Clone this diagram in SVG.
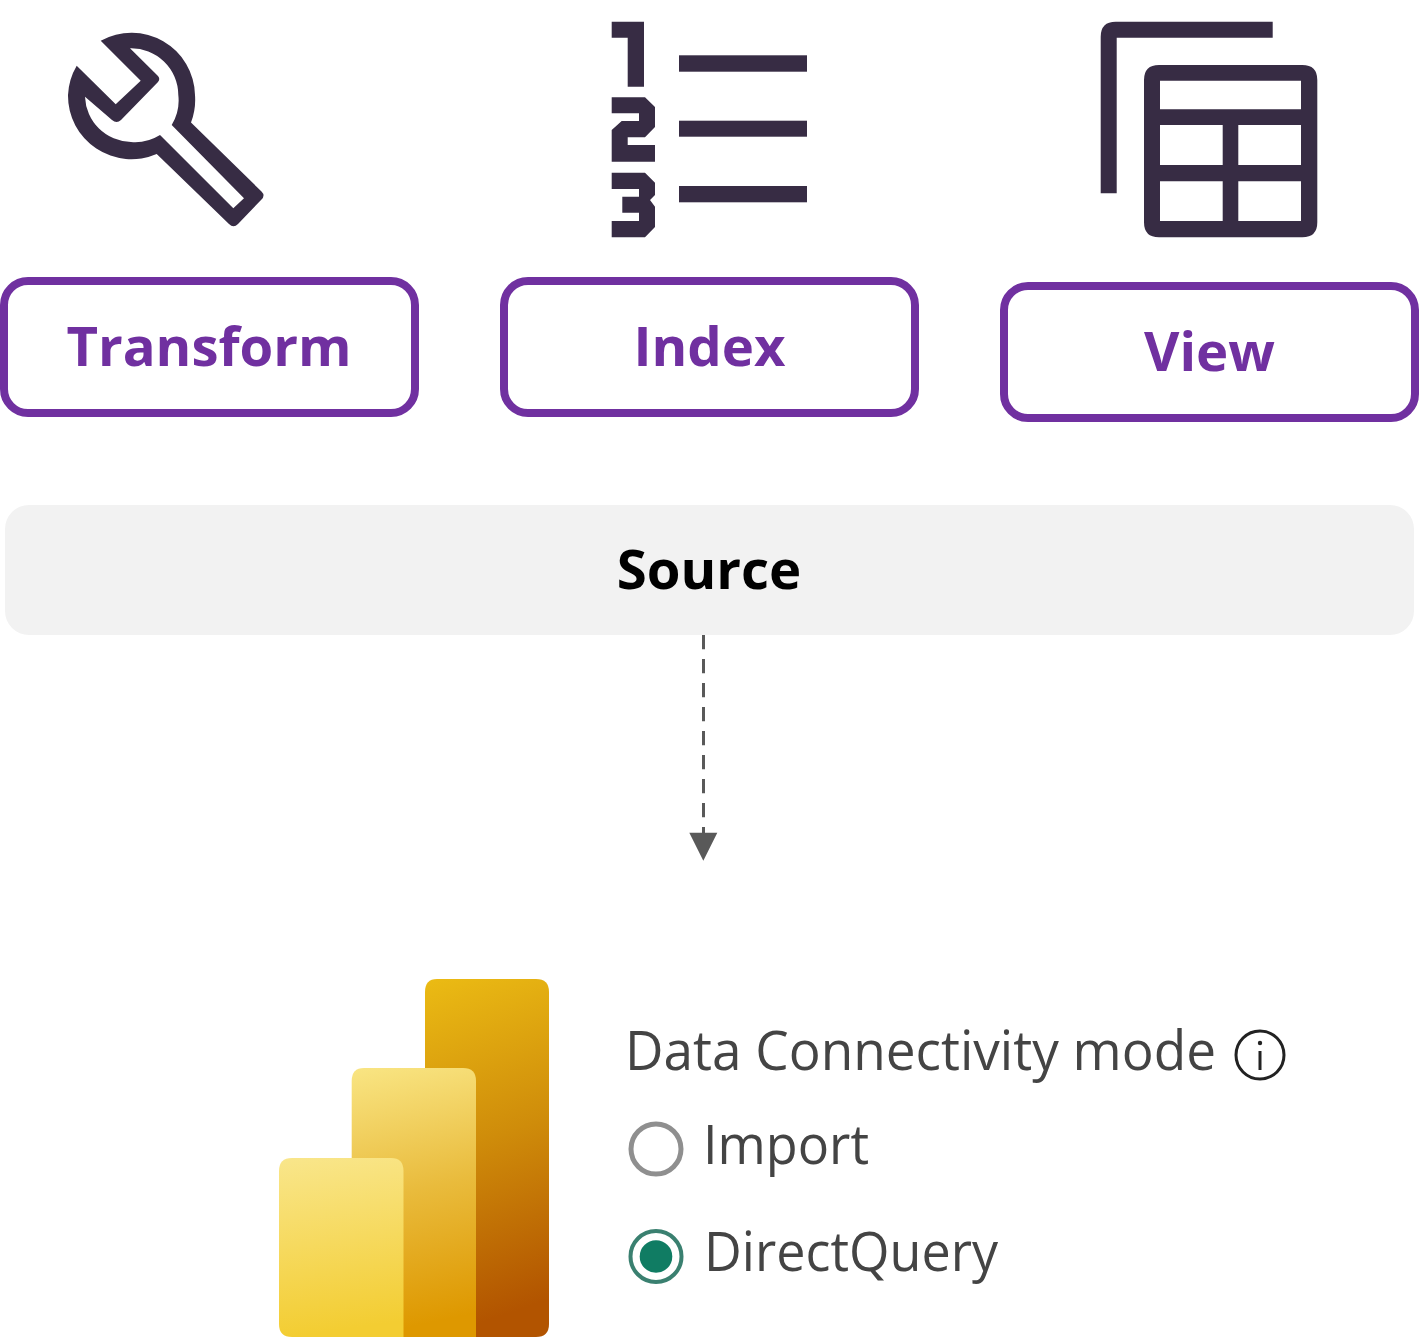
<svg xmlns="http://www.w3.org/2000/svg" width="1419" height="1337" viewBox="0 0 1419 1337">
<style>
.ic{fill:#372c44}
.btn{fill:#fff;stroke:#7030a0;stroke-width:8}
.bt{font-family:"Open Sans","Noto Sans",sans-serif;font-weight:700;font-size:54.500px;fill:#7030a0;text-anchor:middle}
.ui{font-family:"Open Sans","Noto Sans",sans-serif;font-size:54px;fill:#444}
</style>
<defs>
<linearGradient id="g1" x1="0" y1="0" x2="0.12" y2="1"><stop offset="0" stop-color="#ebbb14"/><stop offset="0.5" stop-color="#cf8c0a"/><stop offset="1" stop-color="#b25400"/></linearGradient>
<linearGradient id="g2" x1="0" y1="0" x2="0.1" y2="1"><stop offset="0" stop-color="#f9e583"/><stop offset="0.5" stop-color="#e9bb3c"/><stop offset="1" stop-color="#de9800"/></linearGradient>
<linearGradient id="g3" x1="0" y1="0" x2="0.1" y2="1"><stop offset="0" stop-color="#f9e68b"/><stop offset="1" stop-color="#f3cd32"/></linearGradient>
</defs>
<g id="wrench"><path class="ic" fill-rule="evenodd" d="M100.700 40.700A63.500 63.500 0 0 1 195 95A63.500 63.500 0 0 1 191 122.500L261.500 191.500Q265.500 195.500 261.500 199.500L238 224Q233.500 228.500 229 224L156.700 154A63.500 63.500 0 0 1 68 95A63.500 63.500 0 0 1 76.700 65.700L115.700 104.300L140.700 80.700ZM130 48.300L158 76Q160.500 79 158 82L121 120Q116.700 124 112 120L85 96.700A47 47 0 0 0 131 142A47 47 0 0 0 160 135L233.300 208.300L244 198.300L171.700 125A47 47 0 0 0 178.300 95A47 47 0 0 0 130 48.300Z"/></g>
<g id="numbers"><path class="ic" d="M611.700 21.700H644V86.700H627.700V37.700H611.700ZM611.700 97.300H645L655 107V127L645 137.300H627.700V145H655V161.700H611.700V130L621.700 121H639V113.300H611.700ZM611.700 172.700H645L655 182.700V195L650 200L655 206.700V227L645 237.300H611.700V221H639V212.700H622.300V196.700H639V189H611.700Z"/><rect class="ic" x="679" y="55.300" width="128" height="16.400"/><rect class="ic" x="679" y="120.700" width="128" height="16"/><rect class="ic" x="679" y="186" width="128" height="16.300"/></g>
<g id="table"><path class="ic" d="M1100.700 193.300V36.700Q1100.700 21.700 1115.700 21.700H1272.700V37.700H1116.700V193.300Z"/><path class="ic" fill-rule="evenodd" d="M1159 65H1302.300Q1317.300 65 1317.300 80V222.300Q1317.300 237.300 1302.300 237.300H1159Q1144 237.300 1144 222.300V80Q1144 65 1159 65ZM1160 80.700V109.300H1301V80.700ZM1160 125V165H1222.700V125ZM1238.300 125V165H1301V125ZM1160 181.300V221H1222.700V181.300ZM1238.300 181.300V221H1301V181.300Z"/></g>
<g id="transform"><rect class="btn" x="4" y="281" width="411" height="132" rx="24"/><text class="bt" x="209" y="366">Transform</text></g>
<g id="index"><rect class="btn" x="504" y="281" width="411" height="132" rx="24"/><text class="bt" x="709.500" y="366">Index</text></g>
<g id="view"><rect class="btn" x="1004" y="286" width="411" height="132" rx="24"/><text class="bt" x="1209.500" y="371">View</text></g>
<g id="source"><rect x="5" y="505" width="1409" height="130" rx="24" fill="#f2f2f2"/><text class="bt" style="fill:#000" x="709" y="589">Source</text></g>
<g id="connectors"><path d="M703.500 635V833" fill="none" stroke="#595959" stroke-width="3" stroke-dasharray="14.300 9.700"/><path d="M689.300 832.700H717.300L703.300 860.700Z" fill="#595959"/></g>
<g id="powerbi"><path d="M437 979H536Q549 979 549 992V1324Q549 1337 536 1337H425V992Q425 979 437 979Z" fill="url(#g1)"/><path d="M364 1068H463Q476 1068 476 1081V1337H351.700V1081Q351.700 1068 364 1068Z" fill="url(#g2)"/><path d="M292 1158H391Q403.500 1158 403.500 1171V1337H292Q279 1337 279 1324V1171Q279 1158 292 1158Z" fill="url(#g3)"/></g>
<g id="mode"><text class="ui" x="625" y="1070" textLength="591" lengthAdjust="spacingAndGlyphs">Data Connectivity mode</text><circle cx="1260" cy="1055" r="24" fill="none" stroke="#222" stroke-width="3"/><rect x="1258.500" y="1051" width="3" height="19" fill="#222"/><circle cx="1260" cy="1043" r="2.200" fill="#222"/></g>
<g id="import"><circle cx="656" cy="1149" r="25" fill="#fff" stroke="#8f8f8f" stroke-width="5"/><text class="ui" x="703" y="1164" textLength="166" lengthAdjust="spacingAndGlyphs">Import</text></g>
<g id="directquery"><circle cx="656" cy="1256.500" r="25.500" fill="#fff" stroke="#3a8070" stroke-width="4"/><circle cx="656" cy="1256.500" r="16.300" fill="#107c63"/><text class="ui" x="704" y="1271" textLength="294" lengthAdjust="spacingAndGlyphs">DirectQuery</text></g>
</svg>
